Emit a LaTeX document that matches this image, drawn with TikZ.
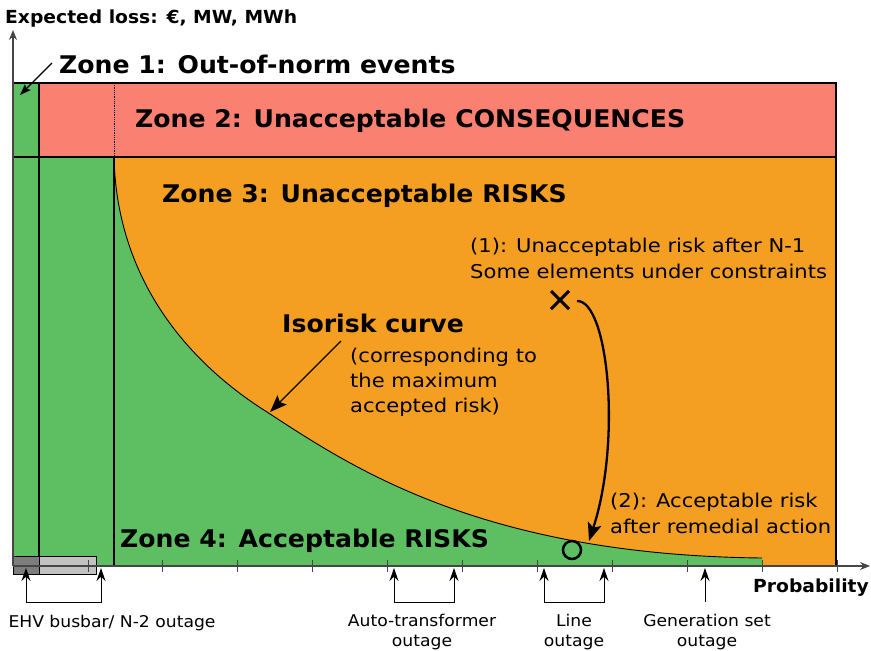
\documentclass[tikz,border=0pt]{standalone}
\usepackage{fontspec}
\setmainfont{DejaVu Sans}
\newfontfamily\titlefont{DejaVu Sans}[FakeStretch=1.035]
\newfontfamily\axisfont{DejaVu Sans}[FakeStretch=1.04]
\newfontfamily\notefont{DejaVu Sans}[FakeStretch=1.11]
\newfontfamily\labelfont{DejaVu Sans}[FakeStretch=1.06]
\usetikzlibrary{arrows.meta,calc}
\definecolor{zgreen}{RGB}{94,190,98}
\definecolor{zorange}{RGB}{245,159,34}
\definecolor{zred}{RGB}{250,128,114}
\definecolor{barlight}{RGB}{194,194,194}
\definecolor{bardark}{RGB}{125,125,125}
\definecolor{axisgray}{RGB}{70,70,70}
\begin{document}
\begin{tikzpicture}[x=1pt,y=-1pt,
  zonelabel/.style={font=\titlefont\fontsize{24.3}{28}\selectfont\bfseries, anchor=base west, inner sep=0},
  axtitle/.style={font=\axisfont\fontsize{18}{20}\selectfont\bfseries, anchor=base west, inner sep=0},
  note/.style={font=\notefont\fontsize{19}{24}\selectfont, anchor=base west, inner sep=0},
  axlabel/.style={font=\labelfont\fontsize{16.2}{20}\selectfont, anchor=base, inner sep=0},
  border/.style={draw=black, line width=1.3},
  tick/.style={draw=axisgray, line width=0.9},
  axisline/.style={draw=axisgray, line width=1.1, -{Stealth[length=10,width=8]}},
  pointer/.style={line width=1.3, -{Stealth[length=17,width=13,inset=3]}},
  outagearrow/.style={line width=1, {Stealth[length=13,width=9]}-{Stealth[length=13,width=9]}},
  singlearrow/.style={line width=1, -{Stealth[length=13,width=9]}},
]
\useasboundingbox (0,0) rectangle (871,651);

% ---- zone areas ----
\fill[zgreen] (13,83) rectangle (836,566);
\fill[zred] (39,83) rectangle (836,157);
\fill[zorange] (114,157) rectangle (836,566);
\def\isorisk{(114,157) .. controls (117,290) and (200,370) .. (267,412)
  .. controls (350,466) and (480,555) .. (762,558)}
\fill[zgreen] \isorisk -- (762,566) -- (114,566) -- cycle;
\draw[black, line width=0.9] \isorisk;

% ---- zone borders ----
\draw[border] (13,83) -- (836,83) -- (836,566);
\draw[border] (13,157) -- (836,157);
\draw[border] (39,83) -- (39,566);
\draw[black, line width=0.8, densely dotted] (114,83) -- (114,157);
\draw[border] (114,157) -- (114,566);

% ---- grey bar on the probability axis ----
\draw[black, line width=0.8, fill=bardark] (13,556) rectangle (39,574);
\draw[black, line width=0.8, fill=barlight] (39,556) rectangle (96,574);
\draw[tick] (88,560) -- (88,572);

% ---- axes ----
\coordinate (origin) at (13,566);
\coordinate (ytip) at (13,30);
\coordinate (xtip) at (870,566);
\draw[axisline] (origin) -- (ytip);
\draw[axisline] (origin) -- (xtip);
\foreach \x in {162,237,312,387,462,537,612,687,762,837}
  \draw[tick] (\x,560) -- (\x,572);

% ---- axis titles ----
\node[axtitle] (ytitle) at (5,23) {Expected loss: €, MW, MWh};
\node[axtitle] (xtitle) at (753,592) {Probability};

% ---- zone titles ----
\node[zonelabel] (z1) at (59,73) {Zone 1: Out-of-norm events};
\node[zonelabel] (z2) at (135,127) {Zone 2: Unacceptable CONSEQUENCES};
\node[zonelabel] (z3) at (162,202) {Zone 3: Unacceptable RISKS};
\node[zonelabel] (z4) at (120,547) {Zone 4: Acceptable RISKS};

\coordinate (z1from) at (52,63);
\coordinate (z1to) at (20,95);
\draw[line width=1.3, -{Stealth[length=11,width=8,inset=2]}] (z1from) -- (z1to);

% ---- isorisk curve label ----
\node[zonelabel] (iso) at (282,332) {Isorisk curve};
\node[note] (iso1) at (350,362) {(corresponding to};
\node[note] (iso2) at (350,387) {the maximum};
\node[note] (iso3) at (350,412) {accepted risk)};
\coordinate (isofrom) at (341,341);
\coordinate (isoto) at (270,412);
\draw[pointer] (isofrom) -- (isoto);

% ---- operating points ----
\node[note] (p1a) at (470,252) {(1): Unacceptable risk after N-1};
\node[note] (p1b) at (470,278) {Some elements under constraints};
\node[note] (p2a) at (610,507) {(2): Acceptable risk};
\node[note] (p2b) at (610,533) {after remedial action};

\coordinate (cross) at (560,300);
\draw[line width=3] ($(cross)+(-9,-9)$) -- ($(cross)+(9,9)$);
\draw[line width=3] ($(cross)+(-9,9)$) -- ($(cross)+(9,-9)$);
\node[draw, circle, line width=2.5, minimum size=18, inner sep=0] (okpt) at (572,550) {};
\coordinate (remstart) at (577,301);
\coordinate (remend) at (589,541);
\draw[line width=2.3, -{Stealth[length=18,width=14,inset=4]}] (remstart) .. controls (608,300) and (622,440) .. (remend);

% ---- outage classes ----
\coordinate (ehvL) at (26,568);
\coordinate (ehvR) at (101,568);
\draw[outagearrow] (ehvL) -- ++(0,34) -| (ehvR);
\node[axlabel] (ehv) at (112,627) {EHV busbar/ N-2 outage};

\coordinate (atL) at (394,568);
\coordinate (atR) at (454,568);
\draw[outagearrow] (atL) -- ++(0,34) -| (atR);
\node[axlabel] (at1) at (422,626) {Auto-transformer};
\node[axlabel] (at2) at (422,646) {outage};

\coordinate (lnL) at (544,568);
\coordinate (lnR) at (604,568);
\draw[outagearrow] (lnL) -- ++(0,34) -| (lnR);
\node[axlabel] (ln1) at (574,626) {Line};
\node[axlabel] (ln2) at (574,646) {outage};

\coordinate (genbot) at (705,602);
\coordinate (gentop) at (705,568);
\draw[singlearrow] (genbot) -- (gentop);
\node[axlabel] (gen1) at (707,626) {Generation set};
\node[axlabel] (gen2) at (707,646) {outage};
\end{tikzpicture}
\end{document}
